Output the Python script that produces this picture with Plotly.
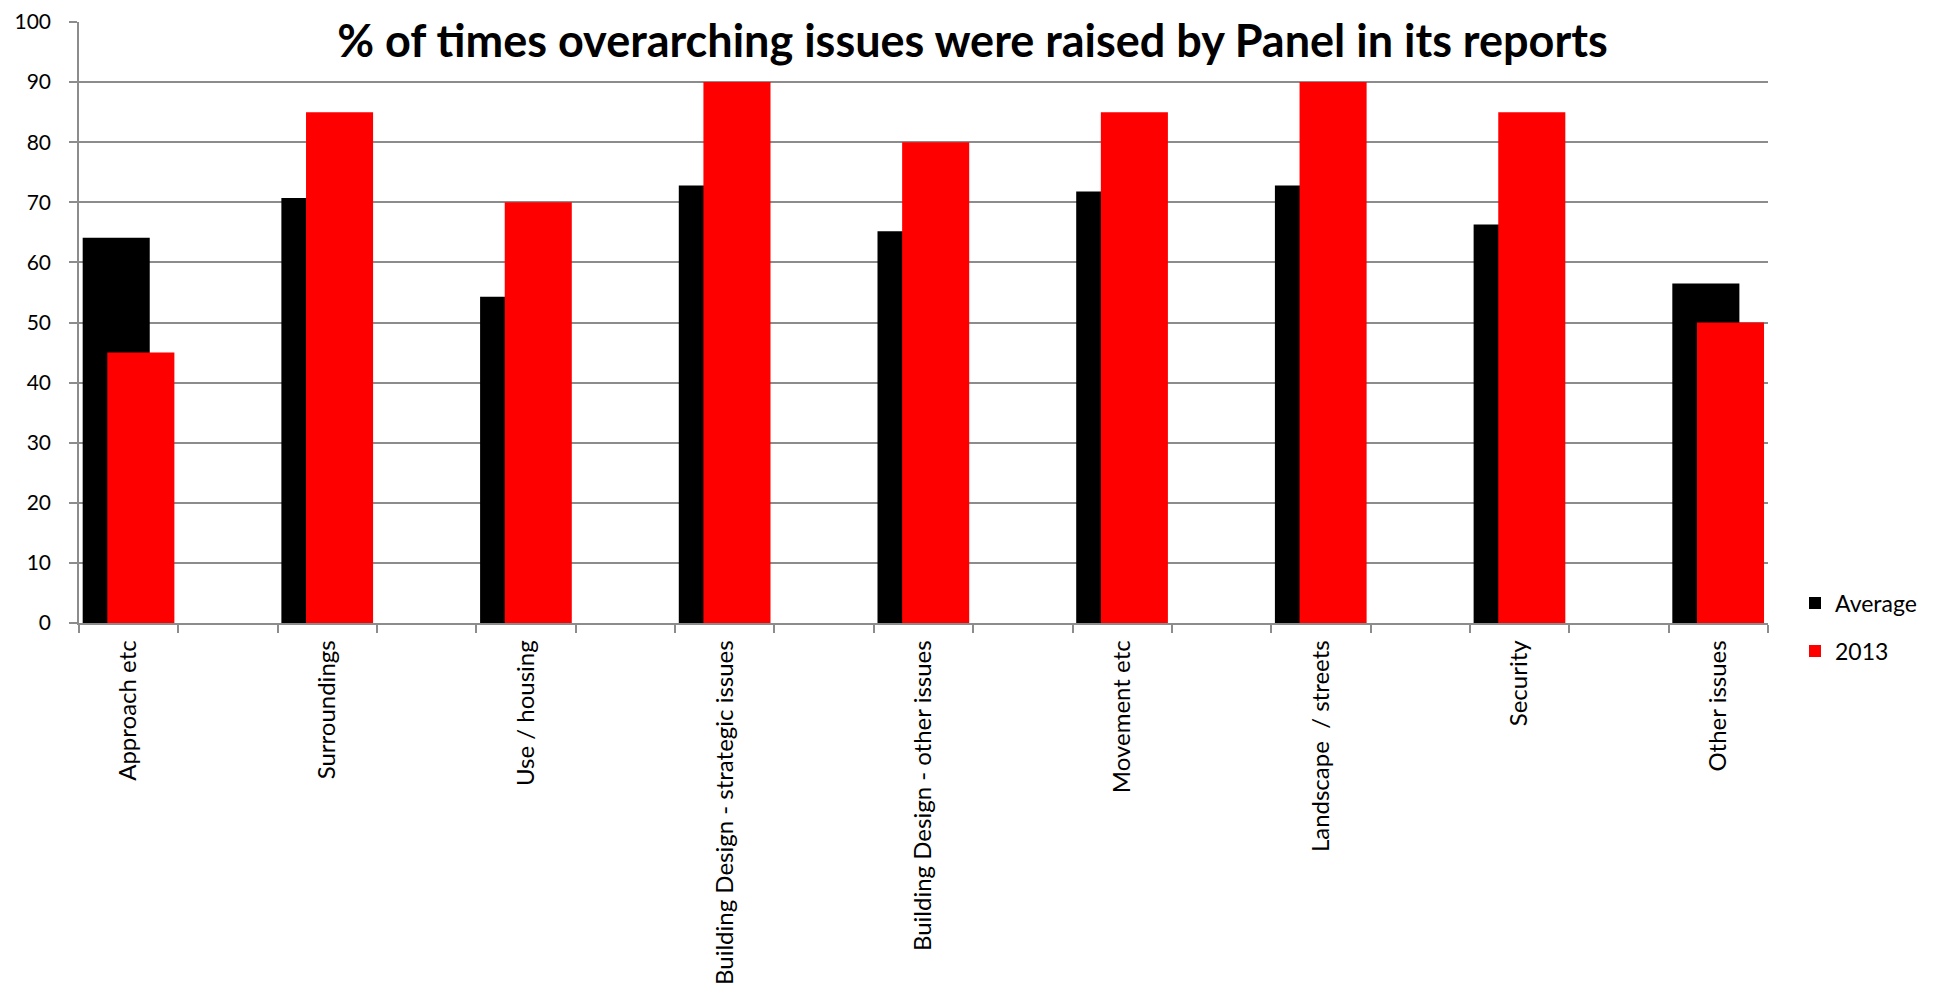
import plotly.graph_objects as go

categories = ["Approach etc", "Surroundings", "Use / housing",
              "Building Design - strategic issues", "Building Design - other issues",
              "Movement etc", "Landscape  / streets", "Security", "Other issues"]
average = [64.1, 70.7, 54.3, 72.8, 65.2, 71.8, 72.8, 66.3, 56.5]
y2013 = [45, 85, 70, 90, 80, 85, 90, 85, 50]
y_ticks = [0, 10, 20, 30, 40, 50, 60, 70, 80, 90, 100]

# categories sit in every other slot (blank slots between them)
xpos = [2 * i for i in range(len(categories))]

FONT = "Lato"
GRID = "#8c8c8c"

fig = go.Figure()
fig.add_trace(go.Bar(x=xpos, y=average, name="Average", width=0.675, offset=-0.463,
                     marker=dict(color="#000000", line=dict(width=0)), legend="legend",
                     showlegend=True))
fig.add_trace(go.Bar(x=xpos, y=y2013, name="2013", width=0.675, offset=-0.215,
                     marker=dict(color="#ff0000", line=dict(width=0)), legend="legend2",
                     showlegend=True))

# page body adds an 8px offset, so the figure is sized to fit inside the window
W, H = 1929, 981
L, R, T, B = 71, 169, 14, 366

fig.update_layout(
    width=W, height=H,
    margin=dict(l=L, r=R, t=T, b=B, autoexpand=False),
    paper_bgcolor="white", plot_bgcolor="white",
    barmode="overlay",
    showlegend=True,
    font=dict(family=FONT, color="#000000", size=21),
    title=dict(text="<b>% of times overarching issues were raised by Panel in its reports</b>",
               x=0.5, xanchor="center", y=1 - 33 / H, yanchor="middle",
               font=dict(family=FONT, size=45, color="#000000")),
    legend=dict(xref="container", yref="container", x=1787 / W, y=1 - 595 / H,
                xanchor="left", yanchor="middle",
                font=dict(family=FONT, size=23), bgcolor="rgba(0,0,0,0)"),
    legend2=dict(xref="container", yref="container", x=1787 / W, y=1 - 643 / H,
                 xanchor="left", yanchor="middle",
                 font=dict(family=FONT, size=23), bgcolor="rgba(0,0,0,0)"),
    xaxis=dict(range=[-0.5, 16.5], tickmode="array", tickvals=xpos, ticktext=categories,
               tickangle=-90, ticks="", showgrid=False, zeroline=False,
               showline=True, linecolor=GRID, linewidth=1.5,
               ticklabelstandoff=6, automargin=False, ticklabeloverflow="allow",
               minor=dict(tick0=-0.5, dtick=1, ticks="outside", ticklen=8,
                          tickcolor=GRID, tickwidth=1.5, showgrid=False),
               tickfont=dict(family=FONT, size=24)),
    yaxis=dict(range=[0, 100], tickmode="array", tickvals=y_ticks,
               ticks="outside", ticklen=8, tickcolor=GRID, tickwidth=1.5,
               showgrid=True, gridcolor=GRID, gridwidth=1.5, zeroline=False,
               showline=True, linecolor=GRID, linewidth=1.5,
               ticklabelstandoff=14, automargin=False, ticklabeloverflow="allow",
               tickfont=dict(family=FONT, size=21)),
)

fig.write_html("out.html")
